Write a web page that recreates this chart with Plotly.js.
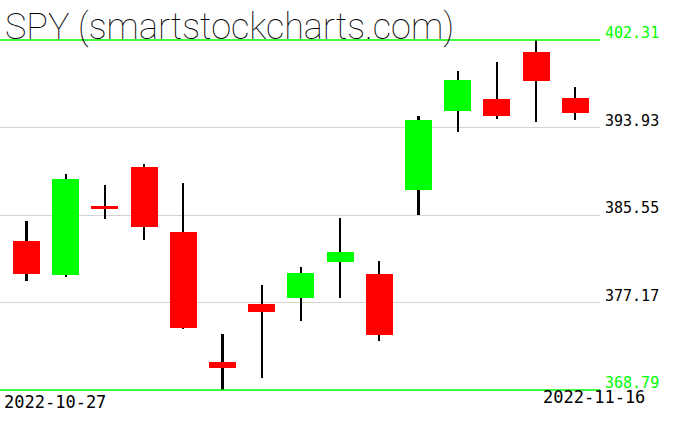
<!DOCTYPE html>
<html>
<head>
<meta charset="utf-8">
<script src="https://cdn.plot.ly/plotly-3.0.1.min.js"></script>
<style>
  html, body { margin: 0; padding: 0; background: #fff; }
  #chart { width: 676px; height: 431px; }
</style>
</head>
<body>
<div id="chart"></div>
<script>
const dates = ['2022-10-27','2022-10-28','2022-10-31','2022-11-01','2022-11-02','2022-11-03','2022-11-04','2022-11-07','2022-11-08','2022-11-09','2022-11-10','2022-11-11','2022-11-14','2022-11-15','2022-11-16'];
const openVals  = [383.06, 379.80, 386.41, 390.15, 383.92, 371.47, 377.03, 377.63, 381.08, 379.90, 387.97, 395.54, 396.66, 401.16, 396.76];
const highVals  = [384.98, 389.48, 388.42, 390.44, 388.62, 374.15, 378.85, 380.57, 385.26, 381.15, 395.03, 399.34, 400.20, 402.31, 397.81];
const lowVals   = [379.26, 379.64, 385.20, 383.19, 374.66, 368.79, 369.97, 375.43, 377.63, 373.51, 385.58, 393.53, 394.77, 394.43, 394.68];
const closeVals = [379.93, 389.00, 386.12, 384.43, 374.76, 370.93, 376.29, 380.00, 382.01, 374.09, 394.65, 398.48, 395.06, 398.41, 395.35];

const gridLevels = [377.17, 385.55, 393.93];
const minLevel = 368.79;
const maxLevel = 402.31;
const levelLabels = ['368.79', '377.17', '385.55', '393.93', '402.31'];
const firstDateLabel = '2022-10-27';
const lastDateLabel = '2022-11-16';
const titleText = 'SPY (smartstockcharts.com)';

const GREEN = '#00ff00', RED = '#ff0000';

const wickTrace = {
  type: 'bar', x: dates,
  base: lowVals,
  y: highVals.map((h, i) => h - lowVals[i]),
  width: 0.052,
  marker: { color: '#000', line: { width: 0 } },
  hoverinfo: 'skip', showlegend: false
};
const bodyTrace = {
  type: 'bar', x: dates,
  base: openVals.map((o, i) => Math.min(o, closeVals[i])),
  y: openVals.map((o, i) => Math.abs(closeVals[i] - o)),
  width: 0.69,
  marker: { color: openVals.map((o, i) => closeVals[i] >= o ? GREEN : RED), line: { width: 0 } },
  hoverinfo: 'skip', showlegend: false
};

const pxPerUnit = 350 / (maxLevel - minLevel);
const pad = 10 / pxPerUnit;

const annotations = [];
const allLevels = [minLevel].concat(gridLevels, [maxLevel]);
allLevels.forEach((v, i) => {
  const isEdge = (i === 0 || i === allLevels.length - 1);
  annotations.push({
    xref: 'paper', yref: 'y', x: 1, y: v, xanchor: 'left', yanchor: 'bottom',
    xshift: 3, yshift: -4, showarrow: false, text: levelLabels[i],
    font: { family: 'DejaVu Sans Mono', size: 15, color: isEdge ? GREEN : '#000' }
  });
});
annotations.push({
  xref: 'paper', yref: 'y', x: 0, y: minLevel, xanchor: 'left', yanchor: 'top',
  xshift: 2, yshift: 0, showarrow: false, text: firstDateLabel,
  font: { family: 'DejaVu Sans Mono', size: 17, color: '#000' }
});
annotations.push({
  xref: 'paper', yref: 'y', x: 1, y: minLevel, xanchor: 'right', yanchor: 'top',
  xshift: 47, yshift: 5, showarrow: false, text: lastDateLabel,
  font: { family: 'DejaVu Sans Mono', size: 17, color: '#000' }
});
annotations.push({
  xref: 'paper', yref: 'y', x: 0, y: maxLevel, xanchor: 'left', yanchor: 'bottom',
  xshift: 3, yshift: -10, showarrow: false, text: titleText,
  font: { family: 'Roboto', size: 36, weight: 100, color: '#000' }
});

const shapes = [minLevel, maxLevel].map(v => ({
  type: 'line', xref: 'paper', yref: 'y', x0: 0, x1: 1, y0: v, y1: v,
  line: { color: GREEN, width: 1.5 }, layer: 'above'
}));

const layout = {
  width: 676, height: 431,
  margin: { l: 0, r: 76, t: 30, b: 31, pad: 0 },
  paper_bgcolor: '#fff', plot_bgcolor: '#fff',
  barmode: 'overlay', bargap: 0,
  showlegend: false,
  xaxis: {
    type: 'category', range: [-0.676, 14.63],
    showgrid: false, zeroline: false, showticklabels: false, ticks: '', showline: false, fixedrange: true
  },
  yaxis: {
    range: [minLevel - pad, maxLevel + pad],
    tickmode: 'array', tickvals: gridLevels,
    showgrid: true, gridcolor: '#d3d3d3', gridwidth: 1,
    zeroline: false, showticklabels: false, ticks: '', showline: false, fixedrange: true
  },
  shapes: shapes,
  annotations: annotations
};

Plotly.newPlot('chart', [wickTrace, bodyTrace], layout, { displayModeBar: false, staticPlot: true });
</script>
</body>
</html>
